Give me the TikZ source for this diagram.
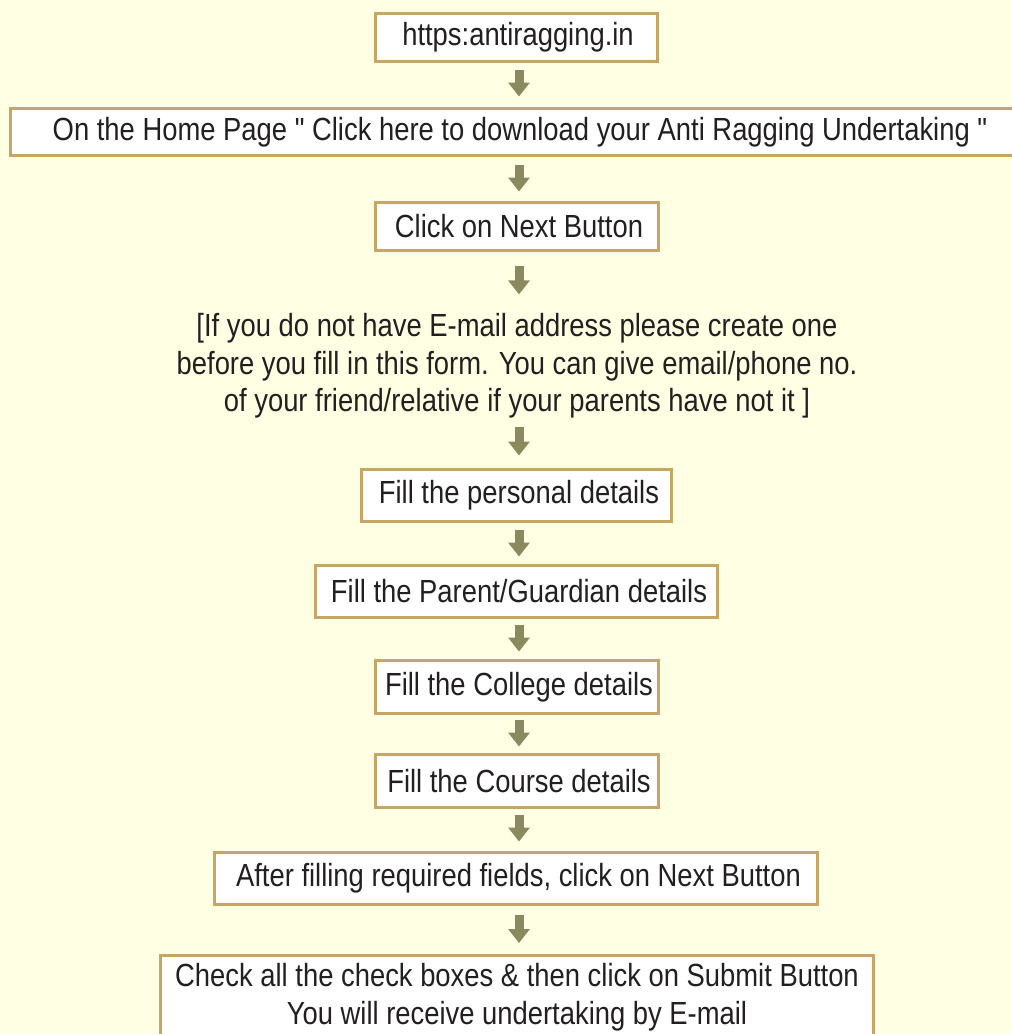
\documentclass[tikz,border=0pt]{standalone}
\usepackage{fontspec}
\setmainfont{Liberation Sans}[FakeStretch=0.856, Ligatures=TeXOff]
\usetikzlibrary{arrows.meta}
\definecolor{bgc}{RGB}{255,255,228}
\definecolor{edgec}{RGB}{198,165,102}
\definecolor{arrc}{RGB}{138,138,94}
\definecolor{txtc}{RGB}{35,31,32}
\tikzset{
  stepbox/.style={draw=edgec, line width=3pt, fill=white, inner sep=0pt,
    font=\fontsize{32}{38}\selectfont, text=txtc, align=center},
  plaintext/.style={inner sep=0pt, font=\fontsize{32}{37.5}\selectfont, text=txtc, align=center},
  flow/.style 2 args={draw=arrc, line width=9pt, line cap=butt,
    -{Triangle[width=21pt,length=14pt]},
    shorten <=#1, shorten >=#2}
}
\begin{document}
\begin{tikzpicture}[x=1pt,y=-1pt]
\fill[bgc] (0,0) rectangle (1012,1034);
\useasboundingbox (0,0) rectangle (1012,1034);

\node[stepbox, minimum width=282pt, minimum height=48pt] (n1) at (516.5,37.5) {\hspace*{3pt}https:antiragging.in};
\node[stepbox, minimum width=1020pt, minimum height=47pt] (n2) at (520,132) {On the Home Page " Click here to download your Anti Ragging Undertaking "};
\node[stepbox, minimum width=283pt, minimum height=48pt] (n3) at (516.5,226.5) {\hspace*{5pt}Click on Next Button};
\node[plaintext] (n4) at (517,366) {[If you do not have E-mail address please create one\\before you fill in this form. You can give email/phone no.\\of your friend/relative if your parents have not it ]};
\node[stepbox, minimum width=310pt, minimum height=52pt] (n5) at (516.5,495.5) {\hspace*{5pt}Fill the personal details};
\node[stepbox, minimum width=402pt, minimum height=52pt] (n6) at (516.5,591.5) {\hspace*{5pt}Fill the Parent/Guardian details};
\node[stepbox, minimum width=283pt, minimum height=53pt] (n7) at (516.5,687) {\hspace*{5pt}Fill the College details};
\node[stepbox, minimum width=283pt, minimum height=53pt] (n8) at (516.5,781) {\hspace*{5pt}Fill the Course details};
\node[stepbox, minimum width=603pt, minimum height=52pt] (n9) at (516,878.5) {\hspace*{5pt}After filling required fields, click on Next Button};
\node[stepbox, anchor=north, minimum width=713pt, inner xsep=0pt, inner ysep=8pt] (n10) at (517,953.5) {Check all the check boxes \& then click on Submit Button\\You will receive undertaking by E-mail\\[40pt]};

\draw[flow={6.5pt}{10.5pt}] ([xshift=2.5pt]n1.south) -- ([xshift=2.5pt]n1.south |- n2.north);
\draw[flow={7.5pt}{9.5pt}] ([xshift=2.5pt]n1.south |- n2.south) -- ([xshift=2.5pt]n3.north);
\draw[flow={13.5pt}{19pt}] ([xshift=2.5pt]n3.south) -- ([xshift=2.5pt]n3.south |- n4.north);
\draw[flow={8pt}{12.5pt}] ([xshift=2.5pt]n3.south |- n4.south) -- ([xshift=2.5pt]n5.north);
\draw[flow={6.5pt}{7.5pt}] ([xshift=2.5pt]n5.south) -- ([xshift=2.5pt]n6.north);
\draw[flow={5.5pt}{7.5pt}] ([xshift=2.5pt]n6.south) -- ([xshift=2.5pt]n7.north);
\draw[flow={4.5pt}{6.5pt}] ([xshift=2.5pt]n7.south) -- ([xshift=2.5pt]n8.north);
\draw[flow={5.5pt}{9.5pt}] ([xshift=2.5pt]n8.south) -- ([xshift=3pt]n9.north);
\draw[flow={8.5pt}{10.5pt}] ([xshift=3pt]n9.south) -- ([xshift=2pt]n10.north);
\end{tikzpicture}
\end{document}
